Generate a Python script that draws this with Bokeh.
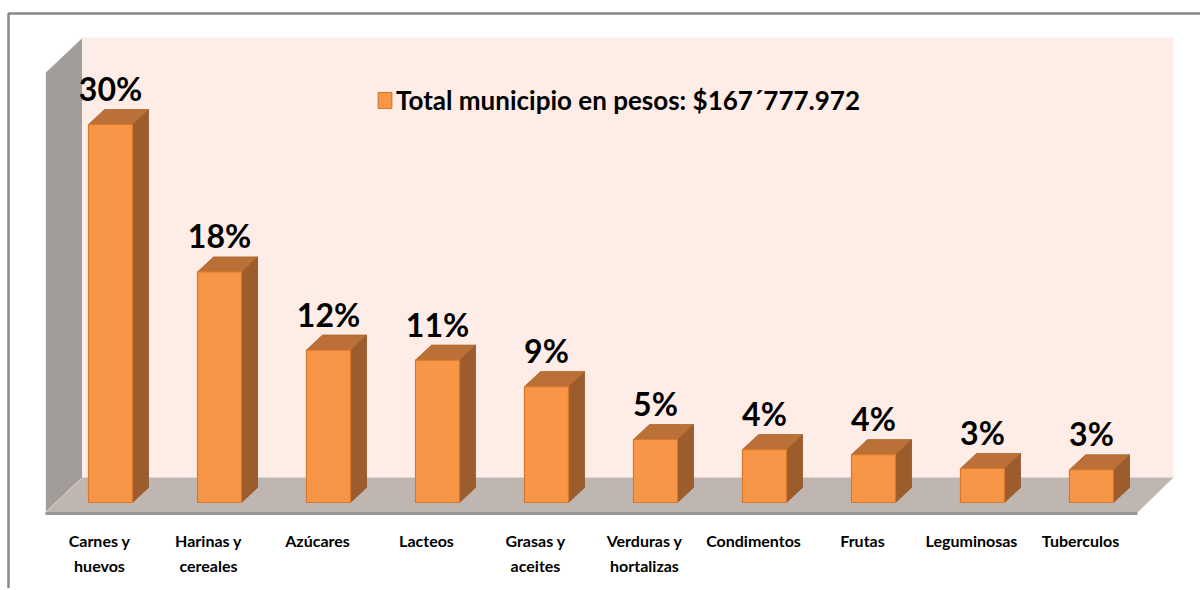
import numpy as np
from bokeh.plotting import figure
from bokeh.models import Range1d, ColumnDataSource, Legend, LegendItem
from bokeh.core.properties import value
from bokeh.embed import file_html
from bokeh.resources import INLINE

# ---- data ----
categories = ["Carnes y\nhuevos", "Harinas y\ncereales", "Azúcares", "Lacteos",
              "Grasas y\naceites", "Verduras y\nhortalizas", "Condimentos",
              "Frutas", "Leguminosas", "Tuberculos"]
values = [30.0, 18.3, 12.1, 11.3, 9.2, 5.0, 4.2, 3.8, 2.7, 2.6]
pct_labels = ["30%", "18%", "12%", "11%", "9%", "5%", "4%", "4%", "3%", "3%"]
series_name = "Total municipio en pesos: $167´777.972"

# ---- geometry (pixel scale of the chart) ----
W, H = 1200, 588
PX_PER_CAT = 109.0     # px between bar centres
PX_PER_PCT = 12.6      # px per percent
X0_IMG, Y0_IMG = 110, 502   # frame px of category 0 / value 0

def xd(px):  # frame px -> data x
    return (px - X0_IMG) / PX_PER_CAT

def yd(py):  # frame px (from top) -> data y
    return (Y0_IMG - py) / PX_PER_PCT

FONT = "Lato"

p = figure(width=W, height=H, output_backend="svg", toolbar_location=None,
           x_range=Range1d(xd(0), xd(W)), y_range=Range1d(yd(H), yd(0)),
           x_axis_type=None, y_axis_type=None, min_border=0,
           background_fill_color="white", border_fill_color="white",
           outline_line_color=None)
p.xgrid.visible = False
p.ygrid.visible = False

# ---- 3D box: back wall, side wall, floor ----
bx0, bx1 = xd(82), xd(1173)
by0, by1 = yd(477), yd(37)
fx0, fx1 = xd(45), xd(1137)
fy0 = yd(512)
side_top = yd(72)

p.quad(left=[bx0], right=[bx1], bottom=[by0], top=[by1],
       fill_color="#FDEDE6", line_color=None)
p.patch([fx0, bx0, bx0, fx0], [side_top, by1, by0, fy0],
        fill_color="#A39D9A", line_color="#F4F0EE", line_width=1)
p.patch([bx0, bx1, fx1, fx0], [by0, by0, fy0, fy0],
        fill_color="#BFB6B2", line_color=None)
p.line([fx0, fx1], [yd(513), yd(513)], line_color="#9A9896", line_width=3)

# ---- bars ----
xs = np.arange(len(values), dtype=float)
v = np.array(values, dtype=float)
hw = 22.0 / PX_PER_CAT
dx = 16.0 / PX_PER_CAT
dy = 15.0 / PX_PER_PCT

side_xs = [[x + hw, x + hw + dx, x + hw + dx, x + hw] for x in xs]
side_ys = [[0, dy, val + dy, val] for val in v]
top_xs = [[x - hw, x + hw, x + hw + dx, x - hw + dx] for x in xs]
top_ys = [[val, val, val + dy, val + dy] for val in v]

p.patches(side_xs, side_ys, fill_color="#9C5C2B", line_color="#8E5427", line_width=0.8)
p.patches(top_xs, top_ys, fill_color="#BA7036", line_color="#A9652F", line_width=0.8)
front = p.quad(left=xs - hw, right=xs + hw, bottom=0, top=v,
               fill_color="#F79646", line_color="#D9782D", line_width=1.2)

# ---- value labels ----
lab_src = ColumnDataSource(dict(x=xs, y=v + 36.0 / PX_PER_PCT, t=pct_labels))
p.text(x="x", y="y", text="t", source=lab_src, text_align="center",
       text_baseline="alphabetic", text_font=value(FONT), text_font_style="bold",
       text_font_size="32px", text_color="black")

# ---- category labels ----
cat_src = ColumnDataSource(dict(x=xs - 11.0 / PX_PER_CAT,
                                y=np.full(len(xs), yd(530)), t=categories))
p.text(x="x", y="y", text="t", source=cat_src, text_align="center",
       text_baseline="top", text_font=value(FONT), text_font_style="bold",
       text_font_size="16px", text_color="black", text_line_height=1.35)

# ---- outer border ----
p.line([xd(8), xd(8), xd(W)], [yd(H), yd(13), yd(13)],
       line_color="#888888", line_width=2.5)

# ---- legend ----
legend = Legend(items=[LegendItem(label=series_name, renderers=[front])],
                location=(376, H - 116), background_fill_alpha=0,
                border_line_color=None, label_text_font=FONT,
                label_text_font_style="bold", label_text_font_size="26px",
                label_text_color="black",
                glyph_width=17, glyph_height=20, padding=0, margin=0,
                spacing=0, label_standoff=3)
p.add_layout(legend)

open("out.html", "w").write(file_html(p, INLINE))
